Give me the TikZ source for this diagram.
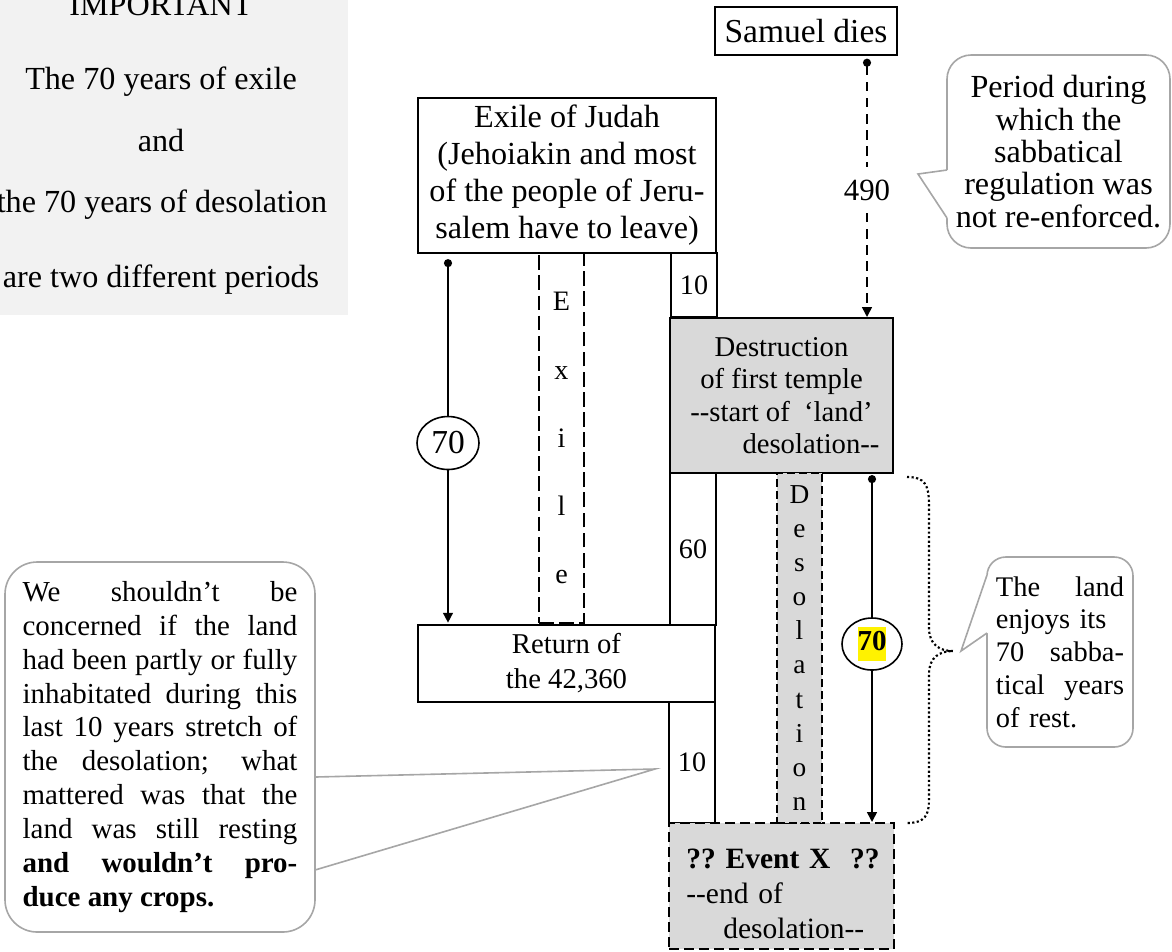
\documentclass[tikz,border=0pt]{standalone}
\usepackage{fontspec}
\setmainfont{Liberation Serif}
\usepackage{xcolor}
\usepackage{tikz}
\usetikzlibrary{arrows.meta}
\usetikzlibrary{shapes.geometric}
\usetikzlibrary{positioning,calc}

\definecolor{impgray}{HTML}{F2F2F2}
\definecolor{boxgray}{HTML}{D9D9D9}
\definecolor{callgray}{HTML}{A6A6A6}
\newcommand{\pxu}{0.3731pt}
\newcommand{\fsz}[2]{\fontsize{#1}{#2}\selectfont}

\tikzset{
  sz/.style 2 args={minimum width=#1*\pxu, minimum height=#2*\pxu},
  event/.style={draw, line width=0.75pt, fill=white, inner sep=0pt, align=center},
  greybox/.style={event, fill=boxgray},
  column/.style={draw, line width=0.6pt, dash pattern=on 5.5pt off 2pt, inner sep=0pt, align=center},
  years/.style={ellipse, draw, fill=white, line width=0.6pt, inner sep=0pt},
  timeline/.style={line width=0.6pt},
  dotstart/.style={timeline, {Circle[length=3pt]}-},
  arrowend/.style={timeline, -{Triangle[length=3.7pt,width=3.7pt]}},
  bubble/.style={draw=callgray, line width=0.6pt, fill=white, inner sep=0pt},
  wedge/.style={draw=callgray, line width=0.6pt},
  bracket/.style={line width=0.8pt, dash pattern=on 0.8pt off 0.9pt},
}

\begin{document}
\begin{tikzpicture}[x=\pxu, y=-\pxu]
        \useasboundingbox (0,0) rectangle (1172,951);
        \fill[impgray] (0,0) rectangle (348,315);
        \node[anchor=base, font=\fsz{12}{14}] (impA) at (161,15) {IMPORTANT};
        \node[anchor=base, font=\fsz{12}{14}] (impB) at (161,89) {The 70 years of exile};
        \node[anchor=base, font=\fsz{12}{14}] (impC) at (161,151) {and};
        \node[anchor=base, font=\fsz{12}{14}] (impD) at (162,212) {the 70 years of desolation};
        \node[anchor=base, font=\fsz{12}{14}] (impE) at (161,287) {are two different periods};

        \node[event, sz={182}{48}, font=\fsz{12.5}{14}] (samuel) at (806,31) {Samuel dies};
        \node[event, sz={298}{155}, font=\fsz{12}{13.8}] (exile) at (567,175.5)
            {Exile of Judah\\(Jehoiakin and most\\of the people of Jeru-\\salem have to leave)};
        \node[event, sz={46}{64}, font=\fsz{10.5}{13}] (tenA) at (694,285) {10};
        \node[greybox, sz={223}{155}, font=\fsz{10.7}{12.1}] (destr) at (781.5,395.5)
            {Destruction\\of first temple\\-{}-start of\ \ `land'\\\hspace*{22pt}desolation-{}-};
        \node[event, sz={46}{152}, font=\fsz{10.5}{13}] (sixty) at (693,549) {60};
        \node[event, sz={297}{77}, font=\fsz{10.7}{13}] (ret) at (566.5,663.5) {Return of\\the 42,360};
        \node[event, sz={46}{121}, font=\fsz{10.5}{13}] (tenB) at (692,762.5) {10};
        \node[greybox, dash pattern=on 3.7pt off 1.9pt, sz={225}{126}, text width=71pt,
            align=left, font=\fsz{11}{13}] (eventx) at (781.5,886)
            {\hfill\mbox{\textbf{??\ Event X\ \ ??}}\hfill\\-{}-end of\\\hspace*{13.8pt}desolation-{}-};

        \node[column, sz={45}{370}, font=\fsz{10.5}{25.4}] (exilecol) at (561.5,438) {E\\x\\i\\l\\e};
        \node[column, fill=boxgray, line width=0.9pt, dash pattern=on 3pt off 1.5pt, sz={45}{350},
            font=\fsz{10.2}{12.7}] (desolcol) at (799.5,648) {D\\e\\s\\o\\l\\a\\t\\i\\o\\n};

        \node[years, sz={62}{53}, font=\fsz{12.5}{14}] (seventyA) at (448,443) {70};
        \node[years, sz={60}{52}, font=\fsz{10.8}{13}] (seventyB) at (872,644)
            {{\fboxsep=0pt\colorbox{yellow}{\strut\textbf{70}}}};
        \node[inner sep=0pt, sz={10}{45}, font=\fsz{11.5}{13}] (n490) at (867,190) {490};

        \draw[dotstart, dash pattern=on 3.5pt off 2.5pt, shorten <=1pt] (samuel.south -| n490) -- (n490.north);
        \draw[arrowend, dash pattern=on 3.5pt off 2.5pt] (n490.south) -- (destr.north -| n490);
        \draw[dotstart, shorten <=1.9pt] (exile.south -| seventyA) -- (seventyA.north);
        \draw[arrowend, shorten >=0.5pt] (seventyA.south) -- (ret.north -| seventyA);
        \draw[dotstart, shorten <=0.4pt] (destr.south -| seventyB) -- (seventyB.north);
        \draw[arrowend] (seventyB.south) -- (eventx.north -| seventyB);

        \draw[bracket] (907,477) .. controls (925,477) and (929,485) .. (929,505) -- (929,628)
            .. controls (929,645) and (940,651) .. (953,651)
            .. controls (940,651) and (929,657) .. (929,674) -- (929,800)
            .. controls (929,815) and (925,823) .. (907,823);

        \node[bubble, rounded corners=9pt, sz={223}{193}, align=center, font=\fsz{12}{12.1}] (sabbath) at (1058.5,151.5)
            {Period during\\which the\\sabbatical\\regulation was\\not re-enforced.};
        \coordinate (sabA) at (947,170);
        \coordinate (sabTip) at (918,174);
        \coordinate (sabB) at (947,218);
        \fill[white] ($(sabA)+(3,0)$) -- (sabA) -- (sabTip) -- (sabB) -- ($(sabB)+(3,0)$) -- cycle;
        \draw[wedge] (sabA) -- (sabTip) -- (sabB);

        \node[bubble, rounded corners=7pt, sz={146}{190}, text width=47.8pt, align=left,
            font=\fsz{10.6}{12.2}] (rest) at (1060,652)
            {The\hfill land\\enjoys its\\70\hfill sabba-\\tical\hfill years\\of rest.};
        \coordinate (restA) at (987,575);
        \coordinate (restTip) at (961,651);
        \coordinate (restB) at (987,633);
        \fill[white] ($(restA)+(3,0)$) -- (restA) -- (restTip) -- (restB) -- ($(restB)+(3,0)$) -- cycle;
        \draw[wedge] (restA) -- (restTip) -- (restB);

        \node[bubble, rounded corners=12pt, sz={310}{370}, text width=102.5pt, align=justify,
            font=\fsz{10.8}{12.65}] (crops) at (160,747)
            {We shouldn't be\linebreak concerned if the land\linebreak had been partly or fully\linebreak
            inhabitated during this\linebreak last 10 years stretch of\linebreak the desolation; what\linebreak
            mattered was that the\linebreak land was still resting\linebreak
            \textbf{and wouldn't pro-\linebreak duce any crops.}};
        \coordinate (cropA) at (315,777);
        \coordinate (cropTip) at (655,769);
        \coordinate (cropB) at (315,870);
        \fill[white] ($(cropA)+(3,0)$) -- (cropA) -- (cropTip) -- (cropB) -- ($(cropB)+(3,0)$) -- cycle;
        \draw[wedge] (cropA) -- (cropTip) -- (cropB);
    \end{tikzpicture}
\end{document}
